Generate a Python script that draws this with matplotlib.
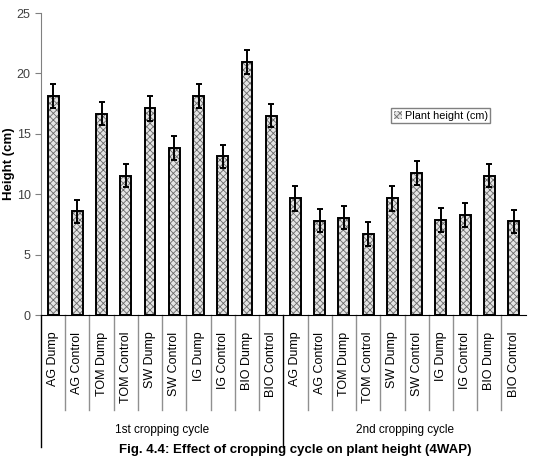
import numpy as np
import matplotlib.pyplot as plt

plt.rcParams['font.family'] = ['Liberation Sans', 'DejaVu Sans']
plt.rcParams['hatch.linewidth'] = 0.6

# data
labels = ['AG Dump', 'AG Control', 'TOM Dump', 'TOM Control', 'SW Dump',
          'SW Control', 'IG Dump', 'IG Control', 'BIO Dump', 'BIO Control'] * 2
groups = ['1st cropping cycle', '2nd cropping cycle']
height = [18.15, 8.6, 16.65, 11.55, 17.1, 13.8, 18.15, 13.15, 20.95, 16.5,
          9.65, 7.8, 8.05, 6.7, 9.65, 11.75, 7.85, 8.3, 11.55, 7.75]
err = [1.0, 0.95, 0.95, 0.95, 1.0, 1.0, 1.0, 0.95, 1.0, 0.95,
       1.0, 0.95, 0.95, 1.0, 1.0, 1.0, 1.0, 1.0, 0.95, 0.95]

x = np.arange(len(height))

fig = plt.figure(figsize=(5.35, 4.66), dpi=100)
ax = fig.add_axes([0.0766, 0.324, 0.906, 0.648])

# hatched fill, then black outline on top
ax.bar(x, height, width=0.45, color='#e4e4e4', edgecolor='#6a6a6a',
       hatch='xxxxx', linewidth=0, label='Plant height (cm)')
ax.bar(x, height, width=0.45, fill=False, edgecolor='black', linewidth=1.4)
ax.errorbar(x, height, yerr=err, fmt='none', ecolor='black',
            elinewidth=1.4, capsize=2.5, capthick=1.4)

ax.set_xlim(-0.5, len(height) - 0.5)
ax.set_ylim(0, 25)
ax.set_yticks([0, 5, 10, 15, 20, 25])
ax.tick_params(axis='y', labelsize=9, length=4, color='#808080', labelcolor='#404040')
ax.set_xticks(x)
ax.set_xticklabels(labels, rotation=90, fontsize=9, va='top')
ax.tick_params(axis='x', length=0, pad=12)
for s in ['top', 'right']:
    ax.spines[s].set_visible(False)
ax.spines['left'].set_color('#808080')
ax.spines['bottom'].set_color('black')
ax.set_ylabel('Height (cm)', fontsize=9.5, fontweight='bold', labelpad=1)

# category separators below the axis
trans = ax.get_xaxis_transform()
for b in np.arange(0.5, len(height) - 1, 1):
    if b == 9.5:
        continue
    ax.plot([b, b], [0, -0.315], color='#909090', lw=1, transform=trans, clip_on=False)
for b in [-0.5, 9.5]:
    ax.plot([b, b], [0, -0.437], color='black', lw=1, transform=trans, clip_on=False)
for i, g in enumerate(groups):
    ax.text(4.5 + 10 * i, -0.382, g, transform=trans, ha='center', va='center', fontsize=8.5)

ax.legend(loc='center', bbox_to_anchor=(0.825, 0.66), fontsize=7.8, fancybox=False,
          edgecolor='#808080', handlelength=0.7, handleheight=0.7, handletextpad=0.3,
          borderpad=0.25, framealpha=1)

fig.text(0.551, 0.034, 'Fig. 4.4: Effect of cropping cycle on plant height (4WAP)',
         ha='center', va='center', fontsize=9.5, fontweight='bold')

fig.savefig('out.png', dpi=100)
